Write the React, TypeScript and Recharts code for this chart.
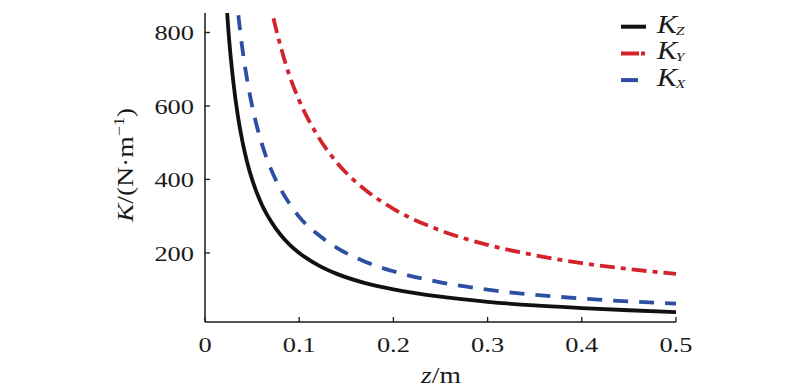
import React from 'react';
import { LineChart, Line, XAxis, YAxis } from 'recharts';

// z positions (m) and stiffness readings (N/m) taken from the figure
const zValues = [0.02, 0.025, 0.03, 0.035, 0.04, 0.045, 0.05, 0.06, 0.07, 0.08, 0.09, 0.1, 0.12, 0.14, 0.17, 0.2, 0.25, 0.3, 0.35, 0.4, 0.45, 0.5];
const kzValues = [1000, 800, 667, 571, 500, 444, 400, 333, 286, 250, 222, 200, 167, 143, 118, 101, 81, 67, 57, 50, 44, 39];
const kxValues = [null, 1200, 1000, 857, 750, 667, 600, 500, 428, 375, 333, 298, 250, 214, 176, 150, 120, 100, 86, 76, 68, 62];
const kyValues = [null, null, null, null, null, null, null, 1010, 870, 765, 680, 615, 517, 446, 372, 320, 261, 222, 194, 172, 156, 143];

const xTicks = [0, 0.1, 0.2, 0.3, 0.4, 0.5];
const yTicks = [200, 400, 600, 800];

const series = [
  { key: 'kz', sub: 'Z', color: '#111111', dash: undefined as string | undefined },
  { key: 'ky', sub: 'Y', color: '#d3242c', dash: '15 6 5 6' },
  { key: 'kx', sub: 'X', color: '#2d4fa3', dash: '15 11' },
];

const data = zValues.map((z, i) => ({ z, kz: kzValues[i], kx: kxValues[i], ky: kyValues[i] }));

const FONT = '"Liberation Serif", "Times New Roman", serif';
const INK = '#1a1a1a';
const STRETCH = 'scale(1.2,1)';

function YTick({ x, y, payload }: any) {
  return (
    <g>
      <line x1={x + 11} x2={x + 16} y1={y} y2={y} stroke={INK} strokeWidth={1.3} />
      <g transform={`translate(${x},${y}) ${STRETCH}`}>
        <text x={0} y={0} dy="0.36em" textAnchor="end" fontFamily={FONT} fontSize={22} fill={INK}>
          {payload.value}
        </text>
      </g>
    </g>
  );
}

function XTick({ x, y, payload }: any) {
  return (
    <g>
      <line x1={x} x2={x} y1={y - 14} y2={y - 19} stroke={INK} strokeWidth={1.3} />
      <g transform={`translate(${x},${y}) ${STRETCH}`}>
        <text x={0} y={0} dy="0.72em" textAnchor="middle" fontFamily={FONT} fontSize={22} fill={INK}>
          {payload.value}
        </text>
      </g>
    </g>
  );
}

function LegendBox() {
  return (
    <svg width={100} height={100} style={{ position: 'absolute', left: 615, top: 0 }}>
      {series.map((s, i) => {
        const cy = 26.7 + i * 26.7;
        return (
          <g key={s.key}>
            <line
              x1={6}
              x2={s.key === 'kx' ? 23 : 31}
              y1={cy}
              y2={cy}
              stroke={s.color}
              strokeWidth={4}
              strokeDasharray={s.key === 'ky' ? '18 2 4 20' : undefined}
            />
            <g transform={`translate(42,${cy + 6}) ${STRETCH}`}>
              <text x={0} y={0} fontFamily={FONT} fontSize={25} fontStyle="italic" fill={INK}>
                K
                <tspan fontSize={13} dy={2} dx={-1}>{s.sub}</tspan>
              </text>
            </g>
          </g>
        );
      })}
    </svg>
  );
}

export default function App() {
  return (
    <div style={{ position: 'absolute', left: 0, top: 0, width: 800, height: 390, background: '#fff' }}>
      <LineChart width={800} height={390} data={data} margin={{ top: 13, right: 124, bottom: 28, left: 145 }}>
        <XAxis
          dataKey="z"
          type="number"
          domain={[0, 0.5]}
          ticks={xTicks}
          tickSize={0}
          tickMargin={14}
          tickLine={false}
          tick={<XTick />}
          height={40}
          axisLine={{ stroke: INK, strokeWidth: 1.5 }}
          label={{
            content: () => (
              <g transform={`translate(441,383) ${STRETCH}`}>
                <text x={0} y={0} textAnchor="middle" fontFamily={FONT} fontSize={23} fill={INK}>
                  <tspan fontStyle="italic">z</tspan>/m
                </text>
              </g>
            ),
          }}
        />
        <YAxis
          type="number"
          domain={[12, 853]}
          allowDataOverflow
          ticks={yTicks}
          tickSize={0}
          tickMargin={11}
          tickLine={false}
          tick={<YTick />}
          width={60}
          axisLine={{ stroke: INK, strokeWidth: 1.5 }}
          label={{
            content: () => (
              <g transform={`translate(133,165) rotate(-90) ${STRETCH}`}>
                <text x={0} y={0} textAnchor="middle" fontFamily={FONT} fontSize={23} fill={INK}>
                  <tspan fontStyle="italic">K</tspan>/(N·m
                  <tspan fontSize={15} dy={-9}>−1</tspan>
                  <tspan dy={9}>)</tspan>
                </text>
              </g>
            ),
          }}
        />
        {series.map((s) => (
          <Line
            key={s.key}
            dataKey={s.key}
            type="monotone"
            stroke={s.color}
            strokeWidth={3.8}
            strokeDasharray={s.dash}
            dot={false}
            activeDot={false}
            isAnimationActive={false}
          />
        ))}
      </LineChart>
      <LegendBox />
    </div>
  );
}
